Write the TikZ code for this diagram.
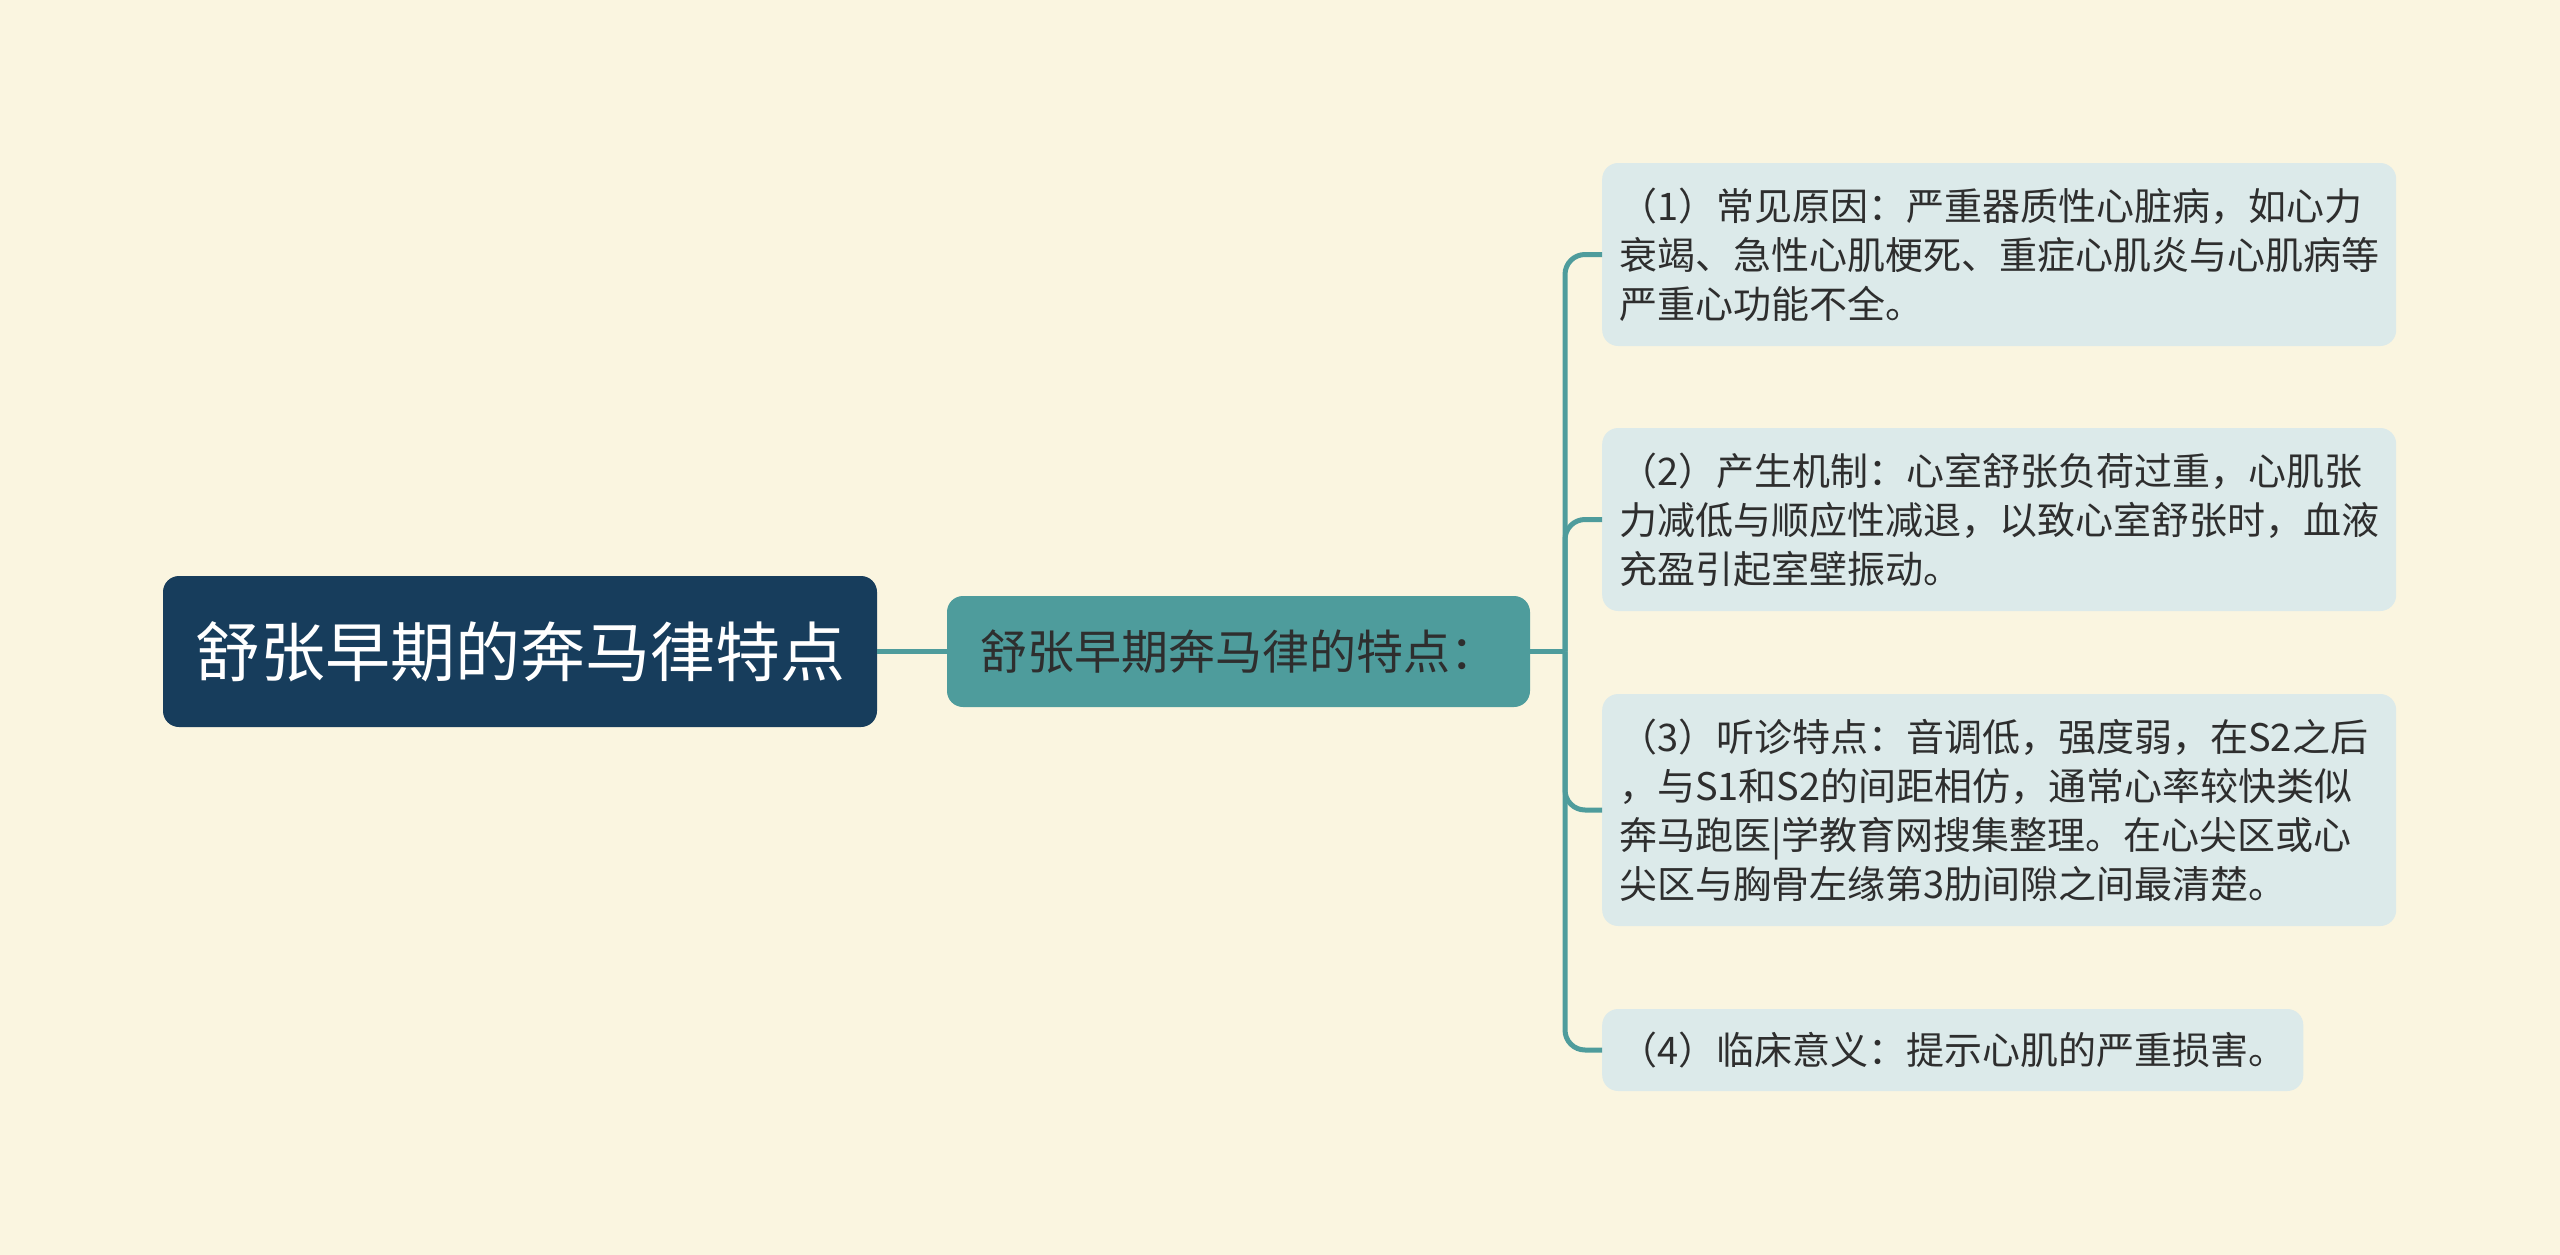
\documentclass[tikz,border=0pt]{standalone}
\usepackage{fontspec}
\setmainfont{Noto Sans CJK SC}
\usepackage{xcolor}
\usepackage{tikz}
\definecolor{bgcream}{HTML}{FAF5E0}
\definecolor{rootnavy}{HTML}{173D5C}
\definecolor{subteal}{HTML}{4E9C9C}
\definecolor{leafblue}{HTML}{DCEAEA}
\definecolor{inkgray}{HTML}{2E2E2E}

\begin{document}
\begin{tikzpicture}[x=1pt, y=1pt, every node/.style={rounded corners=16pt, inner sep=0pt}, root/.style={fill=rootnavy, text=white, font=\fontsize{65}{78}\selectfont, minimum width=714pt, minimum height=151pt}, sub/.style={fill=subteal, text=inkgray, font=\fontsize{47}{56}\selectfont, minimum width=583pt, minimum height=111pt}, leaf/.style={fill=leafblue, text=inkgray, font=\fontsize{38}{49}\selectfont, anchor=west, align=left, inner xsep=17pt}, link/.style={draw=subteal, line width=5pt, rounded corners=20pt}]
  \useasboundingbox[fill=bgcream] (0,0) rectangle (2560,-1255);
  \node[root](root) at (520,-651.5){舒张早期的奔马律特点};
  \node[sub](sub) at (1238.5,-651.5){舒张早期奔马律的特点：};
  \coordinate (bus) at (1565,-651.5);
  \node[leaf, text width=760pt, minimum height=183pt](l1) at (1602,-254.5){（1）常见原因：严重器质性心脏病，如心力\\衰竭、急性心肌梗死、重症心肌炎与心肌病等\\严重心功能不全。};
  \node[leaf, text width=760pt, minimum height=183pt](l2) at (1602,-519.5){（2）产生机制：心室舒张负荷过重，心肌张\\力减低与顺应性减退，以致心室舒张时，血液\\充盈引起室壁振动。};
  \node[leaf, text width=760pt, minimum height=232pt](l3) at (1602,-810){（3）听诊特点：音调低，强度弱，在S2之后\\，与S1和S2的间距相仿，通常心率较快类似\\奔马跑医|学教育网搜集整理。在心尖区或心\\尖区与胸骨左缘第3肋间隙之间最清楚。};
  \node[leaf, minimum height=82pt](l4) at (1602,-1050){（4）临床意义：提示心肌的严重损害。};
  \draw[link] (root.east) -- (sub.west);
  \draw[link] (sub.east) -- (bus);
  \draw[link] (bus) |- (l1.west);
  \draw[link] (bus) |- (l2.west);
  \draw[link] (bus) |- (l3.west);
  \draw[link] (bus) |- (l4.west);
\end{tikzpicture}
\end{document}
